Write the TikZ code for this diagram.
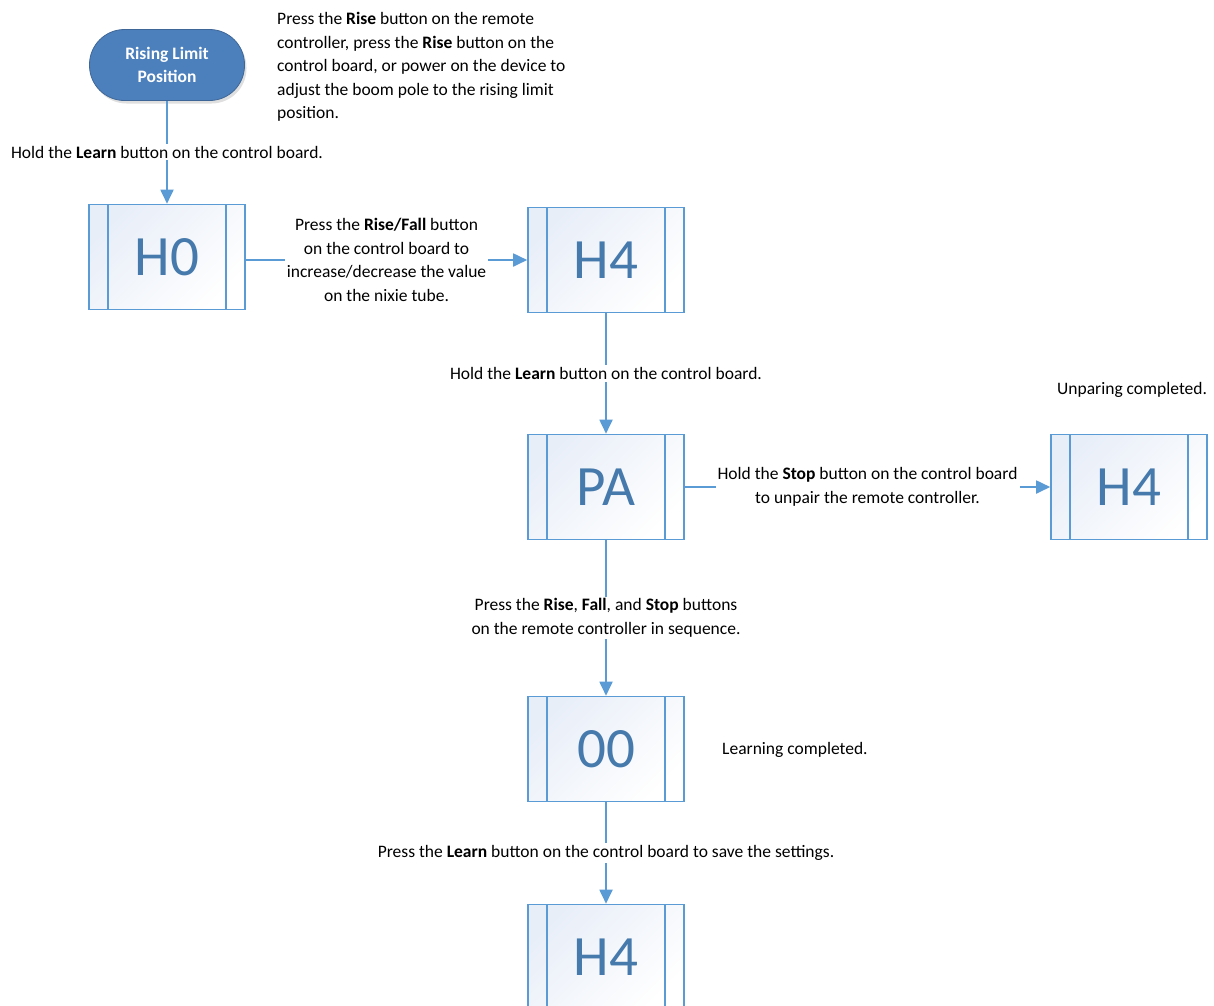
\documentclass[tikz,border=0pt]{standalone}
\usepackage{fontspec}
\setmainfont{Carlito}
\usetikzlibrary{arrows.meta,shadows}
\definecolor{linecolor}{RGB}{91,155,213}
\definecolor{digitcolor}{RGB}{70,122,172}
\definecolor{startfill}{RGB}{76,128,188}
\definecolor{startedge}{RGB}{62,102,150}
\definecolor{boxfill}{RGB}{232,238,248}

\begin{document}
\begin{tikzpicture}[x=1pt,y=-1pt,
  txt/.style={font=\fontsize{17.5}{23.5}\selectfont,align=center,inner sep=2pt},
  freetxt/.style={font=\fontsize{17.5}{23.5}\selectfont,inner sep=0pt},
  startbox/.style={rounded corners=35pt,minimum width=155pt,minimum height=71pt,
    fill=startfill,draw=startedge,line width=0.8pt,text=white,align=center,
    font=\fontsize{17.5}{23.5}\selectfont\bfseries,
    drop shadow={opacity=0.25,shadow xshift=2pt,shadow yshift=-3pt}},
  digitbox/.style={draw=linecolor,line width=1.6pt,minimum width=156pt,minimum height=105pt,
    top color=boxfill,bottom color=white,shading angle=45,
    text=digitcolor,font=\fontsize{57}{60}\selectfont,
    path picture={
      \draw[linecolor,line width=1.6pt]
        ([xshift=19pt]path picture bounding box.north west) -- ([xshift=19pt]path picture bounding box.south west)
        ([xshift=-19pt]path picture bounding box.north east) -- ([xshift=-19pt]path picture bounding box.south east);}},
  flow/.style={draw=linecolor,line width=1.8pt,-{Triangle[length=14pt,width=13pt]}},
  step label/.style={txt,fill=white,midway}]
  \useasboundingbox (0,0) rectangle (1214,1005);

  % start and the first note
  \node[startbox] (rise) at (167,65) {Rising Limit\\Position};
  \node[freetxt,align=left,anchor=north west] (risenote) at (277,12.5)
    {Press the \textbf{Rise} button on the remote\\
     controller, press the \textbf{Rise} button on the\\
     control board, or power on the device to\\
     adjust the boom pole to the rising limit\\
     position.};

  % nixie tube states
  \node[digitbox] (h0) at (167,257) {H0};
  \node[digitbox] (h4a) at (606,260) {H4};
  \node[digitbox] (pa) at (606,487) {PA};
  \node[digitbox] (h4b) at (1129,487) {H4};
  \node[digitbox] (zero) at (606,749) {00};
  \node[digitbox] (h4c) at (606,957) {H4};

  \node[freetxt,anchor=west] (unpaired) at (1057,390) {Unparing completed.};
  \node[freetxt,anchor=west] (learned) at (722,750) {Learning completed.};

  % steps
  \draw[flow] (rise) -- (h0)
    node[step label] {Hold the \textbf{Learn} button on the control board.};
  \draw[flow] (h0.east |- h4a) -- (h4a)
    node[step label] {Press the \textbf{Rise/Fall} button\\on the control board to\\increase/decrease the value\\on the nixie tube.};
  \draw[flow] (h4a) -- (pa)
    node[step label] {Hold the \textbf{Learn} button on the control board.};
  \draw[flow] (pa) -- (h4b)
    node[step label] {Hold the \textbf{Stop} button on the control board\\to unpair the remote controller.};
  \draw[flow] (pa) -- (zero)
    node[step label] {Press the \textbf{Rise}, \textbf{Fall}, and \textbf{Stop} buttons\\on the remote controller in sequence.};
  \draw[flow] (zero) -- (h4c)
    node[step label] {Press the \textbf{Learn} button on the control board to save the settings.};
\end{tikzpicture}
\end{document}
